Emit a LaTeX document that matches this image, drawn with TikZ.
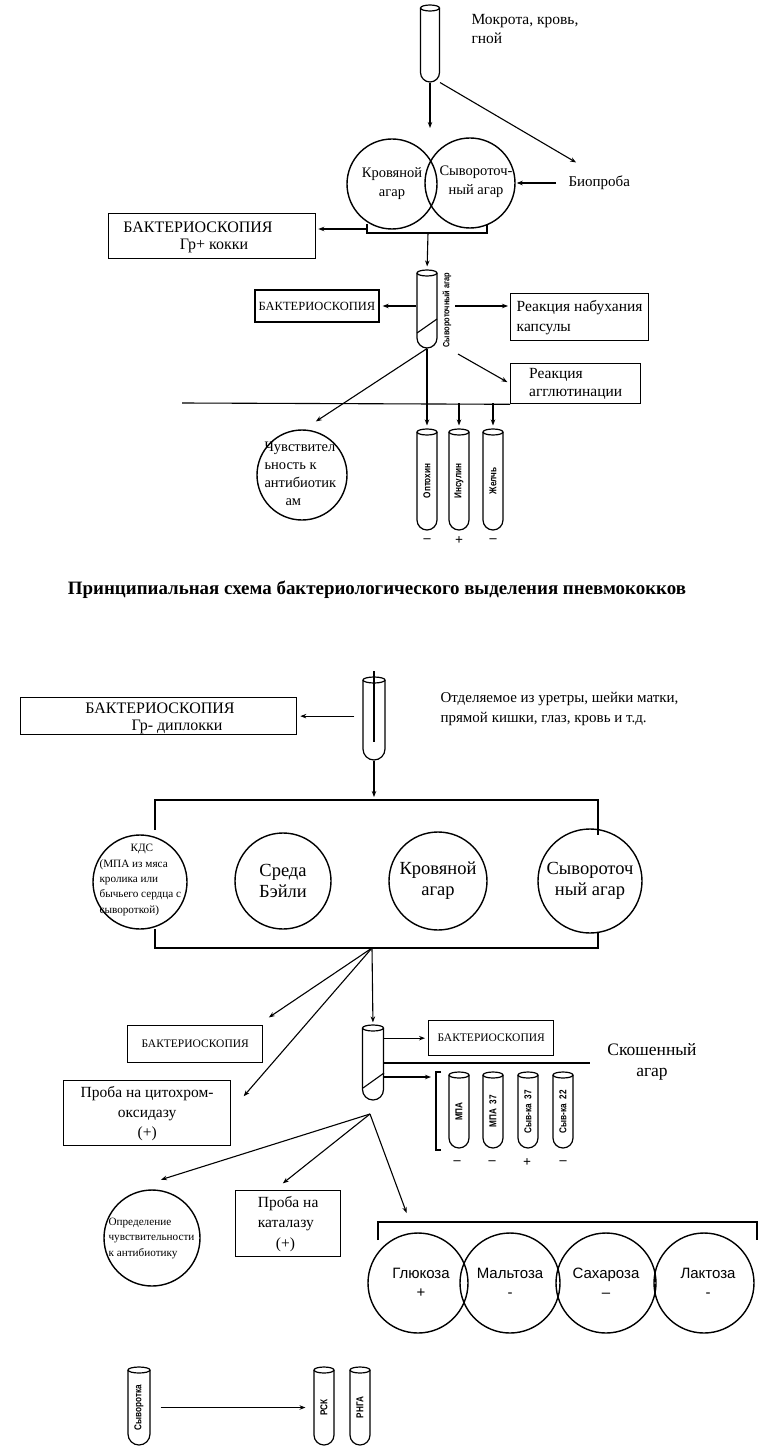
\documentclass[tikz,border=0pt]{standalone}
\usepackage{fontspec}
\usepackage{graphicx}
\setmainfont{Liberation Serif}
\newfontfamily\sansc[FakeStretch=0.82]{Liberation Sans}
\newfontfamily\sansf{Liberation Sans}
\usetikzlibrary{arrows.meta}
\newcommand{\fsz}[2]{\fontsize{#1}{#2}\selectfont}
\newcommand{\testtube}[5]{%
  \node[inner sep=0pt, minimum width=#5pt, minimum height={(#4-#3)*1pt}] (#1) at (#2,{(#3+#4)/2}) {};
  \draw[line width=1.2pt] ({#2-#5/2},#3) -- ({#2-#5/2},{#4-#5/2}) arc[start angle=180, end angle=0, radius=#5/2] -- ({#2+#5/2},#3);
  \draw[line width=1.2pt] (#2,#3) ellipse[x radius=#5/2, y radius=3];
}
\begin{document}
\begin{tikzpicture}[x=1pt,y=-1pt,
  line width=1.1pt,
  arr/.style={-{Stealth[length=6pt,width=4.5pt]}, shorten >=1pt},
  box/.style={draw, line width=1.3pt, inner sep=0pt},
  circ/.style={draw, circle, line width=1.4pt, inner sep=0pt},
  txt/.style={inner sep=0pt},
  tubelab/.style={rotate=90, inner sep=0pt, font=\sansc\bfseries\fsz{10}{10}},
  sign/.style={inner sep=0pt, font=\bfseries\fsz{14}{14}}]
\fill[white] (0,0) rectangle (763,1455);
\useasboundingbox (0,0) rectangle (763,1455);

% ================= TOP SCHEME =================
\testtube{t1}{430}{8}{82}{19}
\node[txt, anchor=north west, align=left, font=\fsz{15.5}{19}] (src1) at (471,14) {Мокрота, кровь,\\гной};
\node[circ, minimum size=90pt, align=center, font=\fsz{14.5}{19}] (krov1) at (392,184) {Кровяной\\агар};
\node[circ, minimum size=90pt] (syv1) at (470,183) {};
\node[txt, align=center, font=\fsz{14.5}{19}] (syv1t) at (476,182) {Сывороточ-\\ный агар};
\node[txt, anchor=west, font=\fsz{15}{16}] (bio) at (568,183) {Биопроба};
\coordinate (biotip) at (577,163);
\coordinate (k1tip) at (430,129);
\draw[arr] (t1.south) -- (k1tip);
\draw[arr] (t1.south east) -- (biotip);
\draw[arr, shorten <=12pt] (bio.west) -- (syv1.east);

\coordinate (b1l) at (367,229);
\coordinate (b1c) at (428,233);
\draw (367,224) -- (367,233) -- (487,233) -- (487,224);
\node[box, anchor=north west, minimum width=207pt, minimum height=45pt] (bk1) at (108,213) {};
\node[txt, font=\fsz{16}{16}] (bk1a) at (198,227) {БАКТЕРИОСКОПИЯ};
\node[txt, font=\fsz{16}{16}] (bk1b) at (214,246) {Гр+ кокки};
\draw[arr, shorten >=2pt] (b1l) -- (bk1.east |- b1l);

\testtube{t2}{427}{273}{348}{20}
\draw (417,333) -- (437,319);
\draw[arr, shorten >=6pt] (b1c) -- (t2.north);
\node[tubelab, font=\sansc\bfseries\fsz{9}{9}] (t2lab) at (447,310) {Сывороточный агар};
\node[box, minimum width=124pt, minimum height=32pt, font=\fsz{12.5}{12}] (bk2) at (317,306) {БАКТЕРИОСКОПИЯ};
\draw[arr, shorten >=3pt] (t2.west |- bk2.east) -- (bk2.east);

\coordinate (a1) at (455,306);
\node[box, anchor=north west, minimum width=138pt, minimum height=47pt, align=left, font=\fsz{15.5}{20}] (rnk) at (510,293) {Реакция набухания\\капсулы};
\draw[arr, shorten >=2pt] (a1) -- (rnk.west |- a1);

\coordinate (a2) at (458,354);
\node[box, anchor=north west, minimum width=130pt, minimum height=40pt, align=left, font=\fsz{15.5}{18}] (rag) at (510,363) {Реакция\\агглютинации};
\draw[arr, shorten >=3pt] (a2) -- (rag.west);

\coordinate (hl) at (182,403);
\draw (hl) -- (rag.south west);

\node[circ, minimum size=90pt] (chv) at (302,475) {};
\node[txt, anchor=north west, align=left, font=\fsz{14.5}{18}] (chvt) at (264,441) {Чувствител\\ьность к\\антибиотик\\\hspace*{21pt}ам};
\coordinate (chtip) at (315,422);
\draw[arr] (t2.south) -- (chtip);

\testtube{opt}{427}{432}{530}{20}
\testtube{ins}{459}{432}{530}{20}
\testtube{zhl}{493}{432}{530}{20}
\draw[arr, shorten >=6pt] (t2.south) -- (opt.north);
\draw[arr, shorten >=6pt] (ins.north |- hl) -- (ins.north);
\draw[arr, shorten >=6pt] (zhl.north |- hl) -- (zhl.north);
\node[tubelab] (optl) at (opt) {Оптохин};
\node[tubelab] (insl) at (ins) {Инсулин};
\node[tubelab] (zhll) at (zhl) {Желчь};
\node[sign] (opts) at (427,541) {–};
\node[sign] (inss) at (459,541) {+};
\node[sign] (zhls) at (493,541) {–};

\node[txt, font=\fsz{16}{16}] (title) at (377,590) {\resizebox{618pt}{!}{\bfseries Принципиальная схема бактериологического выделения пневмококков}};

% ================= BOTTOM SCHEME =================
\testtube{t3}{374}{680}{760}{22}
\coordinate (t3top) at (374,671);
\coordinate (t3in) at (374,742);
\coordinate (j1) at (374,800);
\draw (t3top) -- (t3in);
\draw[arr, shorten >=3pt] (t3.south) -- (j1);
\node[txt, anchor=north west, align=left, font=\fsz{15}{20}] (src2) at (440,692) {Отделяемое из уретры, шейки матки,\\прямой кишки, глаз, кровь и т.д.};
\node[box, anchor=north west, minimum width=276pt, minimum height=37pt] (bk3) at (20,697) {};
\node[txt, font=\fsz{16}{16}] (bk3a) at (160,708) {БАКТЕРИОСКОПИЯ};
\node[txt, font=\fsz{16}{16}] (bk3b) at (177,727) {Гр- диплокки};
\draw[arr, shorten <=8pt, shorten >=3pt] (t3.west |- bk3.east) -- (bk3.east);

\draw (155,830) -- (155,800) -- (598,800) -- (598,835);
\node[circ, minimum size=94pt] (kds) at (140,882) {};
\node[txt, anchor=north west, align=left, font=\fsz{11.2}{15.3}] (kdst) at (99,844) {\hspace*{31pt}КДС\\(МПА из мяса\\кролика или\\бычьего сердца с\\сывороткой)};
\node[circ, minimum size=96pt, align=center, font=\fsz{18.5}{21}] (bey) at (283,881) {Среда\\Бэйли};
\node[circ, minimum size=98pt, align=center, font=\fsz{18.5}{21}] (krv2) at (438,881) {Кровяной\\агар};
\node[circ, minimum size=104pt, align=center, font=\fsz{18.5}{21}] (syv2) at (590,881) {Сывороточ\\ный агар};
\coordinate (j2) at (372,948);
\draw (155,929) -- (155,948) -- (598,948) -- (598,932);

\node[box, anchor=north west, minimum width=135pt, minimum height=37pt, font=\fsz{11.5}{12}] (bk4) at (127,1025) {БАКТЕРИОСКОПИЯ};
\coordinate (bk4tip) at (268,1018);
\draw[arr] (j2) -- (bk4tip);
\node[box, anchor=north west, minimum width=167pt, minimum height=65pt, align=center, font=\fsz{15.5}{20}] (cyt) at (63,1080) {Проба на цитохром-\\оксидазу\\(+)};
\coordinate (cyttip) at (243,1097);
\draw[arr] (j2) -- (cyttip);

\testtube{t4}{373}{1028}{1100}{21}
\draw (363,1088) -- (384,1073);
\draw[arr, shorten >=5pt] (j2) -- (t4.north);
\node[box, anchor=north west, minimum width=125pt, minimum height=35pt, font=\fsz{11.5}{12}] (bk5) at (428,1020) {БАКТЕРИОСКОПИЯ};
\draw[arr, shorten >=3pt] (t4.east |- bk5.west) -- (bk5.west);
\coordinate (hl2) at (590,1063);
\draw (t4.east |- hl2) -- (hl2);
\node[txt, align=center, font=\fsz{17.5}{21}] (skos) at (652,1062) {Скошенный\\агар};
\coordinate (br3) at (432,1077);
\draw[arr] (t4.east |- br3) -- (br3);
\draw (441,1072) -- (436,1072) -- (436,1150) -- (441,1150);

\testtube{mpa}{459}{1075}{1148}{20}
\testtube{mpb}{493}{1075}{1148}{20}
\testtube{sva}{528}{1075}{1148}{20}
\testtube{svb}{563}{1075}{1148}{20}
\node[tubelab] (mpal) at (mpa) {МПА};
\node[tubelab] (mpbl) at (mpb) {МПА\ \ 37};
\node[tubelab] (sval) at (sva) {Сыв-ка\ \ 37};
\node[tubelab] (svbl) at (svb) {Сыв-ка\ \ 22};
\node[sign] (mpas) at (457,1163) {–};
\node[sign] (mpbs) at (492,1163) {–};
\node[sign] (svas) at (527,1163) {+};
\node[sign] (svbs) at (563,1163) {–};

\coordinate (j3) at (370,1114);
\coordinate (oprtip) at (160,1180);
\coordinate (kattip) at (282,1184);
\coordinate (sugtip) at (407,1214);
\draw[arr] (j3) -- (oprtip);
\draw[arr] (j3) -- (kattip);
\draw[arr] (j3) -- (sugtip);

\node[circ, minimum size=96pt] (opr) at (152,1238) {};
\node[txt, anchor=west, align=left, font=\fsz{11.2}{15.5}] (oprt) at (108,1238) {Определение\\чувствительности\\к антибиотику};
\node[box, anchor=north west, minimum width=105pt, minimum height=66pt, align=left, font=\fsz{15.5}{20.5}] (kat) at (235,1190) {Проба на\\каталазу\\\hspace*{18pt}(+)};

\draw (378,1240) -- (378,1222) -- (757,1222) -- (757,1240);
\node[circ, minimum size=100pt] (glu) at (418,1283) {};
\node[circ, minimum size=100pt] (mal) at (510,1283) {};
\node[circ, minimum size=100pt] (sah) at (606,1283) {};
\node[circ, minimum size=100pt] (lak) at (704,1283) {};
\node[txt, align=center, font=\sansf\fsz{15}{19}] (glut) at (421,1283) {Глюкоза\\+};
\node[txt, align=center, font=\sansf\fsz{15}{19}] (malt) at (510,1283) {Мальтоза\\-};
\node[txt, align=center, font=\sansf\fsz{15}{19}] (saht) at (606,1283) {Сахароза\\–};
\node[txt, align=center, font=\sansf\fsz{15}{19}] (lakt) at (708,1283) {Лактоза\\-};

\testtube{syv3}{139}{1370}{1445}{22}
\testtube{rsk}{324}{1370}{1445}{20}
\testtube{rnga}{360}{1370}{1445}{20}
\node[tubelab] (syv3l) at (syv3) {Сыворотка};
\node[tubelab] (rskl) at (rsk) {РСК};
\node[tubelab] (rngal) at (rnga) {РНГА};
\draw[arr, shorten <=10pt, shorten >=8pt] (syv3.east) -- (rsk.west);
\end{tikzpicture}
\end{document}
